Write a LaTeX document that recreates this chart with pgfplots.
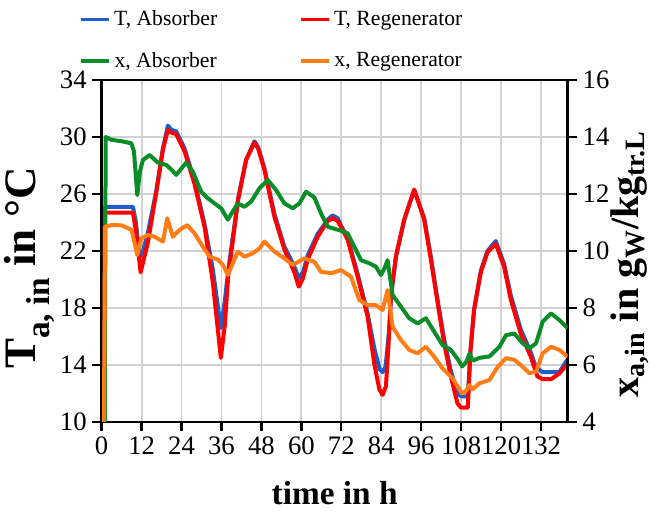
\documentclass[border=0pt]{standalone}
\usepackage{fontspec}
\setmainfont{Liberation Serif}
\usepackage{pgfplots}
\pgfplotsset{compat=1.18}

\definecolor{cblue}{RGB}{31,94,200}
\definecolor{cred}{RGB}{255,0,0}
\definecolor{cgreen}{RGB}{10,140,40}
\definecolor{corange}{RGB}{255,125,20}

\newcommand{\lsub}[1]{\raisebox{-0.3em}{\fontsize{20}{22}\selectfont #1}}

\pgfplotsset{
  base/.style={
    width=279.6pt, height=205.2pt, scale only axis,
    at={(0,0)}, anchor=south west,
    xmin=0, xmax=140, xtick={0,12,...,132},
    axis line style={line width=1.6pt},
    tick style={line width=1.4pt, black},
    tick align=outside, major tick length=5.5pt,
    tick label style={font=\fontsize{16}{19}\selectfont},
    /pgf/number format/assume math mode=true,
    label style={font=\fontsize{20}{24}\selectfont\bfseries},
  },
  curve/.style={line width=2.4pt, line join=round, mark=none},
}

% time in h, T in degC
\pgfplotstableread{
t T
0.7 5
1.0 25.1
3 25.1
9.4 25.1
10.3 24.0
11.4 21.6
12.2 21.8
13.9 23.3
16.4 26.2
18.4 29.2
19.9 30.8
21 30.5
22.4 30.4
24.9 29.2
27.9 26.9
30.9 23.9
33.4 20.7
35.8 16.6
37 18.5
38 20.6
41 25.7
43.4 28.4
45.9 29.7
47 29.3
48.9 27.8
51.9 24.6
54.9 22.3
57.9 20.9
59.2 20.1
60.5 20.5
61.9 21.7
64.9 23.2
67.9 24.2
69.4 24.5
70.9 24.3
71.9 23.8
73.9 22.9
76.9 20.4
79.9 17.6
81.9 15.2
83.5 13.7
84.4 13.5
85.3 13.9
86.4 16.5
86.9 18.8
88.4 21.6
90.9 24.2
93.9 26.3
96.9 24.3
98.9 21.6
100.9 18.6
102.9 15.8
104.9 13.6
106.9 12.0
108 11.8
110 11.8
110.8 15.0
111.9 17.9
113.9 20.6
115.9 22.0
118.4 22.7
120.9 21.1
122.9 18.9
125.9 16.5
128.9 14.9
130.5 13.8
132.5 13.5
135 13.5
137.5 13.5
140 14.4
}\Tabs

\pgfplotstableread{
t T
0.7 5
1.0 24.7
9.4 24.7
10.3 23.4
11.7 20.5
13.9 22.6
16.4 26.1
18.4 29.1
19.9 30.5
21 30.3
22.4 30.2
24.9 29.0
27.9 26.7
30.9 23.7
33.4 19.8
35.8 14.5
37 16.8
38 20.2
41 25.6
43.4 28.4
45.9 29.6
47 29.2
48.9 27.7
51.9 24.4
54.9 22.1
57.9 20.5
59.2 19.5
60.5 20.1
61.9 21.4
64.9 23.0
67.9 24.1
69.4 24.3
70.9 24.1
71.9 23.7
73.9 22.8
76.9 20.2
79.9 17.4
81.9 14.1
83.4 12.3
84.4 11.9
85.4 12.5
86.2 15.5
86.9 18.8
88.4 21.6
90.9 24.2
93.9 26.3
96.9 24.2
98.9 21.4
100.9 18.4
102.9 15.5
104.9 13.2
106.9 11.3
108 11.0
110 11.0
110.8 15.0
111.9 17.9
113.9 20.5
115.9 21.9
118.4 22.5
120.9 20.9
122.9 18.6
125.9 16.2
128.9 14.6
130.9 13.2
132.5 13.0
135 13.0
137.5 13.4
140 14.1
}\Treg

% time in h, x in g/kg
\pgfplotstableread{
t x
0.9 3
1.2 14.0
3 13.9
6 13.85
8.9 13.78
9.7 13.5
10.7 11.96
11.5 12.8
12.4 13.19
14.4 13.37
16.9 13.1
19.4 13.02
21 12.85
22.4 12.67
25.4 13.1
27.4 12.78
29.9 12.08
31.9 11.85
33.9 11.67
35.9 11.5
37.9 11.1
40.9 11.67
42.9 11.55
44.9 11.73
47.4 12.2
49.9 12.49
52.4 12.14
54.9 11.67
57.4 11.5
59.4 11.67
61.4 12.08
63.9 11.88
65.9 11.32
67.9 10.85
69.4 10.8
71.9 10.71
73.9 10.62
75.9 10.15
77.9 9.68
80.4 9.57
82.4 9.45
83.9 9.16
85 9.4
85.9 9.68
87.4 8.46
89.9 8.05
92.4 7.64
94.9 7.46
97.4 7.64
99.9 7.17
102.4 6.70
104.9 6.53
107 6.2
108.3 5.95
109.5 6.1
110.5 6.4
111.5 6.15
113.5 6.25
116.5 6.3
119.5 6.64
121.5 7.05
124 7.1
126.5 6.76
128.5 6.59
130.5 6.76
132.5 7.52
135 7.81
137.5 7.58
140 7.29
}\xabs

\pgfplotstableread{
t x
0.6 2
1.0 10.85
3 10.91
6 10.9
9 10.74
10.7 9.86
11.9 10.44
13.9 10.56
15.9 10.5
18.4 10.33
19.7 11.15
21.4 10.5
23.4 10.74
25.7 10.91
27.9 10.62
30.4 10.15
32.4 9.8
34.9 9.7
36.5 9.5
37.9 9.16
40.9 9.98
42.9 9.8
45.4 9.92
47.4 10.09
48.9 10.33
51.9 9.98
54.9 9.74
57.4 9.51
60.9 9.74
63.9 9.62
65.9 9.27
68.9 9.22
71.9 9.33
74.9 9.1
77.4 8.28
79.9 8.1
82.4 8.1
84.4 7.93
85.9 8.63
87.4 7.34
89.9 6.88
92.4 6.53
94.9 6.41
97.4 6.64
99.9 6.29
102.4 5.88
105.4 5.53
108.3 5.0
109.5 5.1
110.5 5.3
111.5 5.15
113.5 5.36
116.5 5.47
119 5.94
121.5 6.24
124 6.18
126.5 5.94
128.5 5.71
130.5 5.77
132.5 6.41
135 6.64
137.5 6.53
140 6.29
}\xreg

\begin{document}
\begin{tikzpicture}
\begin{axis}[base,
  ymin=10, ymax=34, ytick={10,14,...,34},
  xtick pos=lower, ytick pos=left,
  grid=major, grid style={line width=1.1pt, black!18},
  xlabel={time in h},
  xlabel style={at={(axis description cs:0.5,-0.208)}, anchor=center},
  ylabel={T\lsub{a, in} in °C},
  ylabel style={at={(axis description cs:-0.155,0.45)}, anchor=center,
    font=\fontsize{27}{31}\selectfont\bfseries},
]
\addplot[curve, cblue] table[x=t, y=T] {\Tabs};
\addplot[curve, cred] table[x=t, y=T] {\Treg};
\end{axis}

\begin{axis}[base,
  ymin=4, ymax=16, ytick={4,6,...,16},
  axis x line=none, axis y line*=right,
  ylabel={x\textsubscript{a,in} in g\textsubscript{W}/kg\textsubscript{tr.L}},
  ylabel style={at={(axis description cs:1.134,0.462)}, anchor=center,
    font=\fontsize{24}{28}\selectfont\bfseries},
  legend columns=2,
  legend style={draw=none, fill=none,
    at={(axis description cs:-0.06,1.0)}, anchor=south west, yshift=2pt,
    font=\fontsize{13}{15}\selectfont, row sep=10.5pt,
    /tikz/every even column/.append style={column sep=47pt}},
  legend image code/.code={\draw[#1, line width=2pt] (0cm,0cm) -- (0.6cm,0cm);},
]
\addlegendimage{cblue}
\addlegendentry{T, Absorber}
\addlegendimage{cred}
\addlegendentry{T, Regenerator}
\addplot[curve, cgreen] table[x=t, y=x] {\xabs};
\addlegendentry{x, Absorber}
\addplot[curve, corange] table[x=t, y=x] {\xreg};
\addlegendentry{x, Regenerator}
\end{axis}
\pgfresetboundingbox
\path[use as bounding box] (-61pt,-54.6pt) rectangle (336.2pt,253.2pt);
\end{tikzpicture}
\end{document}
